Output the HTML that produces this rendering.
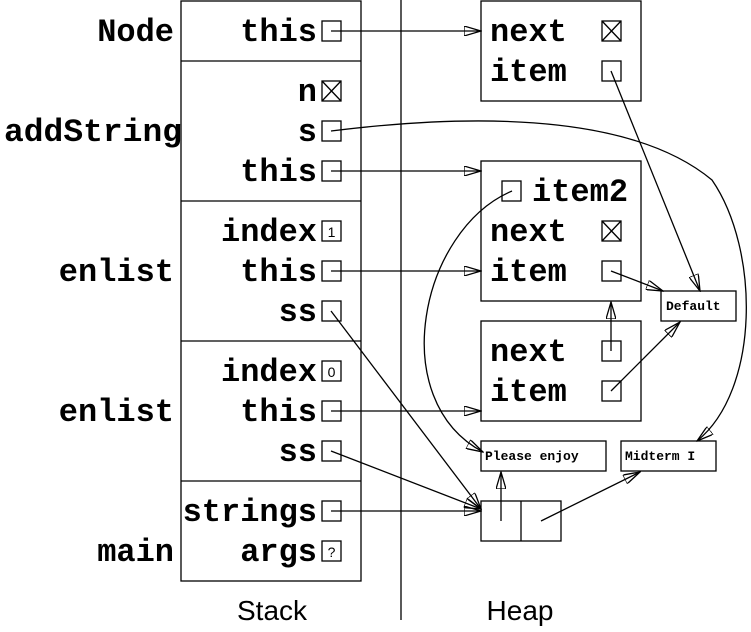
<!DOCTYPE html>
<html><head><style>
html,body{margin:0;padding:0;background:#fff;}
svg{display:block;}
.t{font-family:"Liberation Mono",monospace;font-weight:bold;font-size:32px;fill:#000;}
.s{font-family:"Liberation Mono",monospace;font-weight:bold;font-size:13px;fill:#000;}
.l{font-family:"Liberation Sans",sans-serif;font-size:28px;fill:#000;}
rect{fill:none;stroke:#000;stroke-width:1.3;}
line,path{stroke:#000;stroke-width:1.3;fill:none;}
</style></head><body>
<svg width="751" height="632" viewBox="0 0 751 632">
<defs>
<marker id="a" markerWidth="18" markerHeight="10" refX="17" refY="5" orient="auto" markerUnits="userSpaceOnUse">
<path d="M0,0 L17,5 L0,10 Z" fill="#fff" stroke="#000" stroke-width="1.2"/>
</marker>
</defs>
<line x1="401" y1="0" x2="401" y2="620"/>
<rect x="181" y="1" width="180" height="580"/>
<line x1="181" y1="61" x2="361" y2="61"/>
<line x1="181" y1="201" x2="361" y2="201"/>
<line x1="181" y1="341" x2="361" y2="341"/>
<line x1="181" y1="481" x2="361" y2="481"/>
<g class="t" text-anchor="end">
<text x="174" y="41">Node</text>
<text x="182" y="141" textLength="178" lengthAdjust="spacingAndGlyphs">addString</text>
<text x="174" y="281">enlist</text>
<text x="174" y="421">enlist</text>
<text x="174" y="561">main</text>
<text x="317" y="41">this</text>
<text x="317" y="101">n</text>
<text x="317" y="141">s</text>
<text x="317" y="181">this</text>
<text x="317" y="241">index</text>
<text x="317" y="281">this</text>
<text x="317" y="321">ss</text>
<text x="317" y="381">index</text>
<text x="317" y="421">this</text>
<text x="317" y="461">ss</text>
<text x="317" y="521">strings</text>
<text x="317" y="561">args</text>
</g>
<g>
<rect x="322" y="21" width="19" height="20"/>
<rect x="322" y="81" width="19" height="20"/><line x1="322" y1="81" x2="341" y2="101" stroke-width="0.8"/><line x1="341" y1="81" x2="322" y2="101" stroke-width="0.8"/>
<rect x="322" y="121" width="19" height="20"/>
<rect x="322" y="161" width="19" height="20"/>
<rect x="322" y="221" width="19" height="20"/>
<rect x="322" y="261" width="19" height="20"/>
<rect x="322" y="301" width="19" height="20"/>
<rect x="322" y="361" width="19" height="20"/>
<rect x="322" y="401" width="19" height="20"/>
<rect x="322" y="441" width="19" height="20"/>
<rect x="322" y="501" width="19" height="20"/>
<rect x="322" y="541" width="19" height="20"/>
</g>
<g font-family="Liberation Sans,sans-serif" font-size="14" text-anchor="middle">
<text x="331.5" y="237">1</text><text x="331.5" y="377">0</text><text x="331.5" y="557">?</text>
</g>
<rect x="481" y="1" width="160" height="100"/>
<rect x="481" y="161" width="160" height="140"/>
<rect x="481" y="321" width="160" height="100"/>
<g class="t">
<text x="490" y="41">next</text><text x="490" y="81">item</text>
<text x="532" y="201">item2</text>
<text x="490" y="241">next</text><text x="490" y="281">item</text>
<text x="490" y="361">next</text><text x="490" y="401">item</text>
</g>
<rect x="602" y="21" width="19" height="20"/><line x1="602" y1="21" x2="621" y2="41" stroke-width="0.8"/><line x1="621" y1="21" x2="602" y2="41" stroke-width="0.8"/>
<rect x="602" y="61" width="19" height="20"/>
<rect x="502" y="181" width="19" height="20"/>
<rect x="602" y="221" width="19" height="20"/><line x1="602" y1="221" x2="621" y2="241" stroke-width="0.8"/><line x1="621" y1="221" x2="602" y2="241" stroke-width="0.8"/>
<rect x="602" y="261" width="19" height="20"/>
<rect x="602" y="341" width="19" height="20"/>
<rect x="602" y="381" width="19" height="20"/>
<rect x="661" y="291" width="75" height="30"/>
<text class="s" x="666" y="310">Default</text>
<rect x="481" y="441" width="125" height="30"/>
<text class="s" x="485" y="460">Please enjoy</text>
<rect x="621" y="441" width="95" height="30"/>
<text class="s" x="625" y="460">Midterm I</text>
<rect x="481" y="501" width="80" height="40"/>
<line x1="521" y1="501" x2="521" y2="541"/>
<text class="l" x="272" y="620" text-anchor="middle">Stack</text>
<text class="l" x="520" y="620" text-anchor="middle">Heap</text>
<g marker-end="url(#a)">
<line x1="331" y1="31" x2="481" y2="31"/>
<line x1="331" y1="171" x2="481" y2="171"/>
<line x1="331" y1="271" x2="481" y2="271"/>
<line x1="331" y1="411" x2="481" y2="411"/>
<line x1="611" y1="71" x2="700" y2="291"/>
<line x1="611" y1="271" x2="663" y2="291"/>
<line x1="611" y1="351" x2="611" y2="302"/>
<line x1="611" y1="391" x2="680" y2="322"/>
<line x1="501" y1="521" x2="501" y2="472"/>
<line x1="541" y1="521" x2="640" y2="472"/>
<line x1="331" y1="311" x2="481" y2="509"/>
<line x1="331" y1="451" x2="481" y2="509"/>
<line x1="331" y1="511" x2="481" y2="511"/>
<path d="M512,191 C420,230 385,400 483,452"/>
<path d="M331,131 C500,110 640,120 712,180 C760,250 760,390 697,441"/>
</g>
</svg>
</body></html>
